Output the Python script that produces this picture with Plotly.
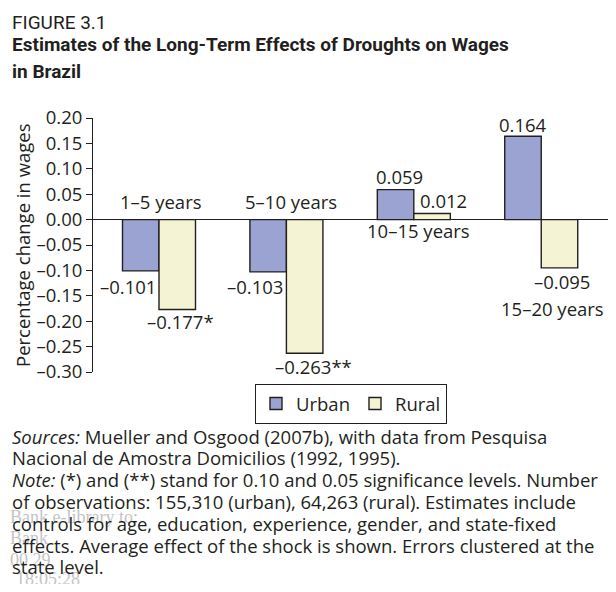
import plotly.graph_objects as go

# ---- data ----
categories = ["1–5 years", "5–10 years", "10–15 years", "15–20 years"]
urban = [-0.101, -0.103, 0.059, 0.164]
rural = [-0.177, -0.263, 0.012, -0.095]
urban_sig = ["", "", "", ""]
rural_sig = ["*", "**", "", ""]
tick_vals = [0.20, 0.15, 0.10, 0.05, 0.00, -0.05, -0.10, -0.15, -0.20, -0.25, -0.30]
tick_text = ["0.20", "0.15", "0.10", "0.05", "0.00", "–0.05", "–0.10", "–0.15",
             "–0.20", "–0.25", "–0.30"]

# ---- layout geometry ----
# the page body has an 8px margin, so the figure is drawn 8px in from the window corner
OFF = 8
W, H = 616 - 2 * OFF, 592 - 2 * OFF
# plot area in window pixels: x 93..608, y 118..372
PL, PR, PT, PB = 93, 608, 118, 372
L, T = PL - OFF, PT - OFF
R = W - (PR - OFF)
B = H - (PB - OFF)
PW, PH = PR - PL, PB - PT
def px(x):  # window pixel x -> paper
    return (x - PL) / PW
def py(y):  # window pixel y -> paper
    return (PB - y) / PH

FONT = "Open Sans, Noto Sans, DejaVu Sans, sans-serif"
TITLE_FONT = "Roboto, Liberation Sans, sans-serif"
FS = 18.5
INK = "#231f20"
URBAN_C = "#9ba3d3"
RURAL_C = "#f4f3d4"

xi = list(range(len(categories)))
bargap = 0.427
bw = (1 - bargap) / 2

fig = go.Figure()
fig.add_trace(go.Bar(x=xi, y=urban, name="Urban",
                     marker=dict(color=URBAN_C, line=dict(color=INK, width=1.4))))
fig.add_trace(go.Bar(x=xi, y=rural, name="Rural",
                     marker=dict(color=RURAL_C, line=dict(color=INK, width=1.4))))

ann = []
fmt = lambda v: ("–" if v < 0 else "") + f"{abs(v):.3f}"
# value labels (pixel nudges)
u_shift = [(-13, -16), (-13, -15), (4, 13), (0, 12)]
r_shift = [(3, -12), (9, -13), (11, 13), (3, -14)]
for i in xi:
    for vals, sig, off, sh in ((urban, urban_sig, -bw / 2, u_shift),
                               (rural, rural_sig, bw / 2, r_shift)):
        ann.append(dict(x=i + off, y=vals[i], xref="x", yref="y", text=fmt(vals[i]) + sig[i],
                        showarrow=False, xshift=sh[i][0], yshift=sh[i][1], yanchor="middle",
                        font=dict(size=FS, color=INK, family=FONT)))
# category labels
cat_shift = [(2, 18), (5, 18), (5, -11), (11, -89)]
for i, c in enumerate(categories):
    ann.append(dict(x=i, y=0, xref="x", yref="y", text=c, showarrow=False,
                    xshift=cat_shift[i][0], yshift=cat_shift[i][1], yanchor="middle",
                    font=dict(size=FS, color=INK, family=FONT)))
# y-axis title
ann.append(dict(x=px(22), y=py(245), xref="paper", yref="paper", text="Percentage change in wages",
                textangle=-90, showarrow=False, xanchor="center", yanchor="middle",
                font=dict(size=FS, color=INK, family=FONT)))
# heading
ann.append(dict(x=px(10), y=py(22), xref="paper", yref="paper", text="FIGURE 3.1", showarrow=False,
                xanchor="left", yanchor="middle",
                font=dict(size=19, color=INK, family=TITLE_FONT)))
ann.append(dict(x=px(10), y=py(44), xref="paper", yref="paper",
                text="<b>Estimates of the Long-Term Effects of Droughts on Wages</b>", showarrow=False,
                xanchor="left", yanchor="middle",
                font=dict(size=19, color=INK, family=TITLE_FONT)))
ann.append(dict(x=px(10), y=py(71), xref="paper", yref="paper",
                text="<b>in Brazil</b>", showarrow=False,
                xanchor="left", yanchor="middle",
                font=dict(size=19, color=INK, family=TITLE_FONT)))
# faint watermark behind the notes
wm = [("Bank e-library to:", 8, 517), ("Bank", 8, 538), ("00.29", 8, 560), ("18:05:28", 14, 579)]
for t, x0, y0 in wm:
    ann.append(dict(x=px(x0), y=py(y0), xref="paper", yref="paper", text=t, showarrow=False,
                    xanchor="left", yanchor="middle",
                    font=dict(size=18, color="#c4c4c4", family="Liberation Serif, serif")))
# notes
foot = [
    "<i>Sources:</i> Mueller and Osgood (2007b), with data from Pesquisa",
    "Nacional de Amostra Domicilios (1992, 1995).",
    "<i>Note:</i> (*) and (**) stand for 0.10 and 0.05 significance levels. Number",
    "of observations: 155,310 (urban), 64,263 (rural). Estimates include",
    "controls for age, education, experience, gender, and state-fixed",
    "effects. Average effect of the shock is shown. Errors clustered at the",
    "state level.",
]
for k, line in enumerate(foot):
    ann.append(dict(x=px(10), y=py(436 + 21.8 * k), xref="paper", yref="paper", text=line,
                    showarrow=False, xanchor="left", yanchor="middle",
                    font=dict(size=FS, color=INK, family=FONT)))

fig.update_layout(
    width=W, height=H,
    margin=dict(l=L, r=R, t=T, b=B, pad=0, autoexpand=False),
    paper_bgcolor="white", plot_bgcolor="white",
    barmode="group", bargap=bargap, bargroupgap=0,
    showlegend=True,
    legend=dict(orientation="h", x=px(351), y=py(384), xanchor="center", yanchor="top",
                bordercolor=INK, borderwidth=1, bgcolor="white",
                font=dict(size=FS, color=INK, family=FONT),
                itemwidth=30, tracegroupgap=0),
    xaxis=dict(range=[-0.518, 3.524], showticklabels=False, ticks="", showline=False,
               showgrid=False, zeroline=False, fixedrange=True),
    yaxis=dict(range=[-0.30, 0.20], tickvals=tick_vals, ticktext=tick_text, ticks="outside",
               ticklen=6, tickcolor=INK, tickwidth=1, showline=True, linecolor=INK, linewidth=1,
               showgrid=False, zeroline=True, zerolinecolor=INK, zerolinewidth=1,
               tickfont=dict(size=FS, color=INK, family=FONT), automargin=False),
    annotations=ann,
    font=dict(family=FONT, color=INK),
)

fig.write_html("out.html")
